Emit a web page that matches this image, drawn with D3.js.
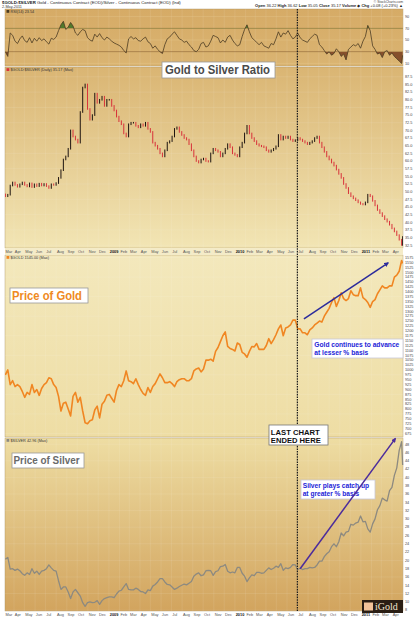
<!DOCTYPE html>
<html>
<head>
<meta charset="utf-8">
<script src="https://cdn.jsdelivr.net/npm/d3@7"></script>
<style>
body { margin: 0; background: #fff; }
svg { display: block; font-family: "Liberation Sans", Arial, sans-serif; }
</style>
</head>
<body>
<div id="chart"></div>
<script>
// weekly closes (fridays), plus the last session
var dates = d3.timeFriday.range(new Date(2008, 2, 7), new Date(2011, 3, 30));
dates.push(new Date(2011, 4, 2));

var ratio = [
  48.5, 49.0, 52.0, 53.0, 52.2, 51.6, 52.4, 53.0, 52.2, 51.7, 52.7, 51.5, 52.4, 51.8, 52.6, 52.0, 52.5, 51.8, 51.2, 52.4,
  52.2, 52.8, 54.5, 57.0, 60.5, 61.5, 64.0, 70.0, 68.0, 67.0, 66.0, 76.0, 84.0, 85.0, 77.0, 73.5, 75.0, 82.0, 79.0, 80.0,
  81.0, 78.0, 80.0, 80.0, 78.0, 76.5, 74.5, 73.0, 72.0, 69.0, 68.0, 72.0, 72.5, 72.5, 71.5, 71.0, 72.0, 71.5, 72.5, 70.5,
  69.5, 66.0, 65.0, 64.0, 62.5, 61.5, 63.5, 66.0, 66.5, 68.0, 70.5, 71.0, 69.5, 68.5, 67.5, 67.0, 65.5, 63.5, 61.5, 60.0,
  59.5, 60.5, 60.8, 60.0, 59.8, 62.5, 64.0, 63.5, 63.0, 61.5, 62.5, 64.0, 65.5, 64.5, 62.5, 62.0, 61.5, 64.5, 66.0, 69.0,
  71.5, 69.0, 67.5, 66.5, 65.5, 65.0, 64.8, 64.5, 63.5, 63.0, 63.5, 64.0, 64.8, 68.5, 67.0, 68.0, 67.5, 68.0, 67.0, 66.5,
  66.8, 67.5, 67.0, 66.5, 66.0, 65.5, 66.0, 66.5, 67.5, 68.0, 66.0, 64.5, 63.0, 61.5, 60.5, 59.5, 58.5, 57.2, 55.8, 54.5,
  52.5, 51.2, 49.5, 48.5, 47.8, 47.2, 46.5, 46.0, 45.8, 46.5, 49.0, 48.5, 47.0, 45.5, 44.0, 43.0, 42.0, 41.0, 40.2, 39.2,
  38.0, 37.0, 35.8, 34.3, 32.6, 35.2
];

var gold = [
  975, 1000, 925, 945, 915, 925, 915, 890, 860, 885, 875, 925, 885, 900, 870, 905, 925, 935, 960, 955,
  925, 910, 865, 790, 830, 835, 800, 765, 865, 885, 835, 860, 790, 730, 725, 740, 745, 795, 815, 755,
  825, 840, 870, 875, 855, 835, 895, 925, 915, 945, 995, 945, 940, 930, 955, 925, 900, 880, 870, 910,
  885, 915, 930, 955, 980, 960, 935, 935, 940, 930, 915, 940, 950, 955, 955, 945, 945, 955, 995, 1005,
  1010, 990, 1005, 1050, 1050, 1055, 1045, 1095, 1115, 1145, 1175, 1195, 1120, 1110, 1105, 1097, 1138, 1130, 1090, 1082,
  1065, 1095, 1120, 1118, 1135, 1105, 1105, 1105, 1125, 1160, 1135, 1155, 1180, 1210, 1230, 1175, 1215, 1220, 1230, 1255,
  1255, 1210, 1210, 1190, 1190, 1180, 1205, 1215, 1230, 1240, 1250, 1245, 1275, 1295, 1315, 1345, 1370, 1325, 1355, 1395,
  1365, 1355, 1365, 1405, 1385, 1380, 1380, 1420, 1370, 1360, 1345, 1320, 1350, 1360, 1390, 1410, 1430, 1420, 1420, 1430,
  1430, 1475, 1485, 1505, 1560, 1545
];

var silver = [
  20.3, 20.7, 17.9, 18.0, 17.6, 17.9, 17.5, 16.8, 16.4, 17.0, 16.6, 18.0, 16.9, 17.4, 16.6, 17.4, 17.6, 18.0, 18.9, 18.2,
  17.6, 17.4, 15.1, 13.0, 13.6, 13.6, 12.4, 10.8, 12.4, 13.0, 12.2, 11.4, 9.8, 8.9, 9.8, 10.0, 9.8, 9.9, 10.3, 9.4,
  10.3, 10.8, 11.0, 11.2, 11.2, 11.0, 11.9, 12.6, 12.8, 13.6, 14.4, 13.0, 12.9, 12.9, 13.3, 13.0, 12.5, 12.4, 12.0, 12.9,
  12.7, 13.8, 14.2, 14.8, 15.6, 15.6, 14.8, 14.2, 14.1, 13.6, 13.0, 13.3, 13.7, 14.0, 14.3, 14.1, 14.5, 14.9, 16.2, 16.7,
  17.0, 16.3, 16.5, 17.5, 17.6, 17.5, 16.4, 17.3, 17.5, 18.5, 18.6, 19.0, 17.4, 17.0, 17.2, 17.0, 18.3, 18.3, 16.9, 16.2,
  14.9, 15.8, 16.5, 16.3, 17.1, 17.1, 16.9, 17.0, 17.6, 18.2, 17.8, 18.1, 18.6, 18.3, 19.2, 17.6, 18.2, 18.0, 18.3, 19.0,
  18.9, 17.8, 18.1, 17.8, 18.0, 18.0, 18.3, 18.2, 18.3, 18.9, 19.8, 19.8, 20.9, 21.6, 22.1, 23.3, 24.0, 23.3, 24.5, 26.6,
  25.9, 26.8, 27.0, 28.7, 28.5, 29.0, 29.2, 30.7, 29.3, 29.4, 27.6, 26.8, 28.8, 30.0, 32.2, 33.2, 35.0, 34.6, 34.3, 36.8,
  37.6, 40.5, 42.3, 46.5, 48.6, 43.0
];

var rsi = [
  30, 22, 62, 58, 48, 44, 52, 57, 49, 46, 54, 45, 53, 48, 54, 49, 52, 47, 43, 53,
  51, 55, 66, 76, 82, 68, 72, 80, 74, 62, 58, 64, 68, 66, 54, 50, 48, 60, 55, 61,
  54, 50, 55, 52, 48, 45, 43, 41, 38, 32, 28, 52, 56, 52, 54, 49, 48, 52, 55, 47,
  44, 36, 40, 34, 30, 27, 42, 52, 55, 60, 64, 58, 52, 50, 46, 48, 42, 38, 32, 30,
  34, 44, 46, 38, 40, 48, 58, 56, 54, 45, 50, 46, 55, 58, 50, 44, 40, 42, 56, 68,
  76, 64, 54, 50, 46, 42, 46, 40, 38, 36, 44, 42, 52, 64, 55, 62, 60, 66, 58, 52,
  55, 62, 54, 50, 48, 46, 52, 56, 60, 58, 42, 38, 32, 26, 30, 24, 27, 35, 30, 22,
  26, 16, 34, 38, 42, 40, 44, 36, 48, 56, 75, 66, 40, 34, 26, 28, 20, 30, 32, 24,
  28, 22, 18, 14, 10, 24
];

// right axis labels
var rsiTicks = [90, 70, 50, 30, 10];
var ratioTicks = d3.range(32.5, 87.6, 2.5);
var goldTicks = d3.range(675, 1576, 25);
var silverTicks = d3.range(8, 49, 2);

var W = 419, H = 618;
var left = 5, right = 403;

var panels = {
  rsi:    {top: 9,   bottom: 66},
  ratio:  {top: 67,  bottom: 248},
  gold:   {top: 255, bottom: 437},
  silver: {top: 438, bottom: 611}
};

var x = d3.scaleTime()
    .domain([new Date(2008, 2, 3), new Date(2011, 4, 3)])
    .range([4, 403]);

var yRsi = d3.scaleLinear().domain([5.6, 103]).range([panels.rsi.bottom, panels.rsi.top]);
var yRatio = d3.scaleLinear().domain([31.6, 90.7]).range([panels.ratio.bottom, panels.ratio.top]);
var yGold = d3.scaleLinear().domain([657, 1588]).range([panels.gold.bottom, panels.gold.top]);
var ySilver = d3.scaleLinear().domain([7.8, 49.5]).range([panels.silver.bottom, panels.silver.top]);

var svg = d3.select("#chart").append("svg")
    .attr("width", W)
    .attr("height", H);

var defs = svg.append("defs");

function gradient(id, c1, c2) {
  var g = defs.append("linearGradient").attr("id", id)
      .attr("x1", 0).attr("y1", 0).attr("x2", 0).attr("y2", 1);
  g.append("stop").attr("offset", "0%").attr("stop-color", c1);
  g.append("stop").attr("offset", "100%").attr("stop-color", c2);
}
gradient("bgRsi", "#d6ab66", "#dab472");
gradient("bgRatio", "#dab573", "#f2e5b4");
gradient("bgGold", "#f3e8bc", "#eedda4");
gradient("bgSilver", "#eedda3", "#d2a45e");

// panel backgrounds
var bgIds = {rsi: "bgRsi", ratio: "bgRatio", gold: "bgGold", silver: "bgSilver"};
Object.keys(panels).forEach(function(k) {
  var p = panels[k];
  svg.append("rect")
      .attr("x", left).attr("y", p.top)
      .attr("width", right - left).attr("height", p.bottom - p.top)
      .attr("fill", "url(#" + bgIds[k] + ")")
      .attr("stroke", "#a89060")
      .attr("stroke-width", 0.4);
  defs.append("clipPath").attr("id", "clip-" + k)
    .append("rect")
      .attr("x", left).attr("y", p.top)
      .attr("width", right - left).attr("height", p.bottom - p.top);
});

// month strip between ratio and gold panels
svg.append("rect")
    .attr("x", left).attr("y", 248)
    .attr("width", right - left).attr("height", 7)
    .attr("fill", "#f4ebc8");

var months = d3.timeMonth.range(new Date(2008, 2, 1), new Date(2011, 4, 2));

// faint grid
Object.keys(panels).forEach(function(k) {
  var p = panels[k];
  svg.append("g").selectAll("line")
      .data(months)
    .enter().append("line")
      .attr("x1", function(d) { return x(d); })
      .attr("x2", function(d) { return x(d); })
      .attr("y1", p.top).attr("y2", p.bottom)
      .attr("stroke", "#fff")
      .attr("stroke-opacity", 0.18)
      .attr("stroke-width", 0.5);
});

function hgrid(ticks, y, op) {
  svg.append("g").selectAll("line")
      .data(ticks)
    .enter().append("line")
      .attr("x1", left).attr("x2", right)
      .attr("y1", function(d) { return y(d); })
      .attr("y2", function(d) { return y(d); })
      .attr("stroke", "#fff")
      .attr("stroke-opacity", op)
      .attr("stroke-width", 0.5);
}
hgrid(ratioTicks.filter(function(d, i) { return i % 2 == 0; }), yRatio, 0.18);
hgrid(goldTicks.filter(function(d, i) { return i % 4 == 0; }), yGold, 0.2);
hgrid(silverTicks.filter(function(d, i) { return i % 2 == 0; }), ySilver, 0.18);

// rsi reference lines
svg.append("g").selectAll("line")
    .data(rsiTicks)
  .enter().append("line")
    .attr("x1", left).attr("x2", right)
    .attr("y1", function(d) { return yRsi(d); })
    .attr("y2", function(d) { return yRsi(d); })
    .attr("stroke", function(d) { return (d == 70 || d == 30) ? "#9e7a44" : "#e6c88e"; })
    .attr("stroke-width", function(d) { return (d == 70 || d == 30) ? 0.6 : 0.4; });

var rsiData = dates.map(function(d, i) { return {date: d, v: rsi[i]}; });

defs.append("clipPath").attr("id", "clip-over")
  .append("rect").attr("x", left).attr("y", panels.rsi.top)
    .attr("width", right - left).attr("height", yRsi(70) - panels.rsi.top);
defs.append("clipPath").attr("id", "clip-under")
  .append("rect").attr("x", left).attr("y", yRsi(30))
    .attr("width", right - left).attr("height", panels.rsi.bottom - yRsi(30));

svg.append("path")
    .datum(rsiData)
    .attr("clip-path", "url(#clip-over)")
    .attr("fill", "#52792c")
    .attr("d", d3.area()
      .x(function(d) { return x(d.date); })
      .y0(yRsi(70))
      .y1(function(d) { return yRsi(d.v); }));

svg.append("path")
    .datum(rsiData)
    .attr("clip-path", "url(#clip-under)")
    .attr("fill", "#86502c")
    .attr("d", d3.area()
      .x(function(d) { return x(d.date); })
      .y0(yRsi(30))
      .y1(function(d) { return yRsi(d.v); }));

svg.append("path")
    .datum(rsiData)
    .attr("clip-path", "url(#clip-rsi)")
    .attr("fill", "none")
    .attr("stroke", "#4b3b22")
    .attr("stroke-width", 0.8)
    .attr("d", d3.line()
      .x(function(d) { return x(d.date); })
      .y(function(d) { return yRsi(d.v); }));

// ratio bars, previous close to close
var bars = dates.map(function(d, i) {
  return {date: d, open: i == 0 ? ratio[0] + 0.6 : ratio[i - 1], close: ratio[i]};
});

svg.append("g")
    .attr("clip-path", "url(#clip-ratio)")
  .selectAll("line")
    .data(bars)
  .enter().append("line")
    .attr("x1", function(d) { return x(d.date); })
    .attr("x2", function(d) { return x(d.date); })
    .attr("y1", function(d) { return yRatio(Math.max(d.open, d.close)) - 0.8; })
    .attr("y2", function(d) { return yRatio(Math.min(d.open, d.close)) + 0.8; })
    .attr("stroke", function(d) { return d.close >= d.open ? "#1e1410" : "#d8323a"; })
    .attr("stroke-width", 1);

// gold line
svg.append("path")
    .datum(gold)
    .attr("clip-path", "url(#clip-gold)")
    .attr("fill", "none")
    .attr("stroke", "#f08622")
    .attr("stroke-width", 1.6)
    .attr("stroke-linejoin", "round")
    .attr("d", d3.line()
      .x(function(d, i) { return x(dates[i]); })
      .y(function(d) { return yGold(d); }));

// silver line
svg.append("path")
    .datum(silver)
    .attr("fill", "none")
    .attr("stroke", "#8d8a80")
    .attr("stroke-width", 1.3)
    .attr("stroke-linejoin", "round")
    .attr("d", d3.line()
      .x(function(d, i) { return x(dates[i]); })
      .y(function(d) { return ySilver(d); }));

// right axis labels
function rightLabels(ticks, y, fmt) {
  svg.append("g").selectAll("text")
      .data(ticks)
    .enter().append("text")
      .attr("x", 405)
      .attr("y", function(d) { return y(d) + 1.3; })
      .style("font-size", "3.8px")
      .style("fill", "#444")
      .text(fmt);
}
rightLabels(rsiTicks, yRsi, function(d) { return d; });
rightLabels(ratioTicks, yRatio, d3.format(".1f"));
rightLabels(goldTicks, yGold, function(d) { return d; });
rightLabels(silverTicks, ySilver, function(d) { return d; });

// month labels
function monthLabels(yPos) {
  svg.append("g").selectAll("text")
      .data(months.filter(function(d) { return x(d) < 398; }))
    .enter().append("text")
      .attr("x", function(d) { return Math.max(x(d) + 0.8, left + 0.5); })
      .attr("y", yPos)
      .style("font-size", "3.9px")
      .style("font-weight", function(d) { return d.getMonth() == 0 ? "bold" : "normal"; })
      .style("fill", function(d) { return d.getMonth() == 0 ? "#111" : "#555"; })
      .text(function(d) { return d.getMonth() == 0 ? d3.timeFormat("%Y")(d) : d3.timeFormat("%b")(d); });
}
monthLabels(253.3);
monthLabels(616.3);

// header
var head = svg.append("text").attr("x", 2).attr("y", 4.4).style("font-size", "4.3px").style("fill", "#222");
head.append("tspan").style("font-weight", "bold").text("$GOLD:$SILVER");
head.append("tspan").text(" Gold - Continuous Contract (EOD)/Silver - Continuous Contract (EOD)  (Ind)");
svg.append("text").attr("x", 2).attr("y", 8.2).style("font-size", "3.8px").style("fill", "#333").text("2-May-2011");

svg.append("text").attr("x", 403).attr("y", 3.2).attr("text-anchor", "end")
    .style("font-size", "3.4px").style("fill", "#444").text("© StockCharts.com");
var quote = svg.append("text").attr("x", 403).attr("y", 7.4).attr("text-anchor", "end")
    .style("font-size", "4px").style("fill", "#222");
[["Open", " 36.22 "], ["High", " 36.62 "], ["Low", " 35.05 "], ["Close", " 35.17 "], ["Volume", " ◆ "], ["Chg", " +0.08 (+0.23%) ▲"]]
  .forEach(function(p) {
    quote.append("tspan").style("font-weight", "bold").text(p[0]);
    quote.append("tspan").text(p[1]);
  });

// legends
function legend(yPos, color, label) {
  svg.append("rect").attr("x", 6.5).attr("y", yPos - 2.6).attr("width", 2.8).attr("height", 2.8).attr("fill", color);
  svg.append("text").attr("x", 10.5).attr("y", yPos)
      .style("font-size", "3.8px").style("fill", "#333").text(label);
}
legend(12.6, "#4b3b22", "RSI(14) 23.54");
legend(70.8, "#d8323a", "$GOLD:$SILVER (Daily) 35.17 (Max)");
legend(258.6, "#f08622", "$GOLD 1545.00 (Max)");
legend(441.6, "#8d8a80", "$SILVER 42.96 (Max)");

// divider: where the last chart ended
var lastChart = new Date(2010, 6, 1);
svg.append("line")
    .attr("x1", x(lastChart)).attr("x2", x(lastChart))
    .attr("y1", panels.rsi.top).attr("y2", panels.silver.bottom)
    .attr("stroke", "#1a1a1a")
    .attr("stroke-width", 1.2)
    .attr("stroke-dasharray", "1.6,1");

// title boxes
function titleBox(bx, by, bw, bh, lines, color, size, border) {
  svg.append("rect")
      .attr("x", bx).attr("y", by).attr("width", bw).attr("height", bh)
      .attr("fill", "#fff")
      .attr("stroke", border)
      .attr("stroke-width", 0.8);
  lines.forEach(function(l) {
    svg.append("text")
        .attr("x", l.x).attr("y", l.y)
        .attr("textLength", l.w)
        .attr("lengthAdjust", "spacingAndGlyphs")
        .style("font-size", size + "px")
        .style("font-weight", "bold")
        .style("fill", color)
        .text(l.t);
  });
}
titleBox(162, 62, 113, 16, [{t: "Gold to Silver Ratio", x: 165, y: 73.6, w: 105}], "#4a4a4a", 12, "#9a9a9a");
titleBox(10, 288, 78, 15, [{t: "Price of Gold", x: 12, y: 299.6, w: 70}], "#ef8a22", 13, "#9a9a9a");
titleBox(12, 453, 72, 15, [{t: "Price of Silver", x: 13.5, y: 464.2, w: 66}], "#6a6a6a", 11.5, "#9a9a9a");
titleBox(312, 339, 91, 19, [
  {t: "Gold continues to advance", x: 314.3, y: 347.3, w: 85},
  {t: "at lesser % basis", x: 314.3, y: 355.3, w: 54}
], "#2424d8", 7.2, "#c8c8d8");
titleBox(301, 480, 74, 19, [
  {t: "Silver plays catch up", x: 302.7, y: 488.3, w: 66.5},
  {t: "at greater % basis", x: 302.7, y: 496.2, w: 56.5}
], "#2424d8", 7.2, "#c8c8d8");
titleBox(269, 425, 59, 20, [
  {t: "LAST CHART", x: 270.8, y: 434.8, w: 49},
  {t: "ENDED HERE", x: 270.8, y: 443.2, w: 50}
], "#111", 7.8, "#777");

// arrows, anchored in data space
function arrow(id, color, from, to, y) {
  var m = defs.append("marker").attr("id", id)
      .attr("viewBox", "0 0 10 10").attr("refX", 8).attr("refY", 5)
      .attr("markerWidth", 3.2).attr("markerHeight", 3.2)
      .attr("orient", "auto");
  m.append("path").attr("d", "M0,0L10,5L0,10z").attr("fill", color);
  svg.append("line")
      .attr("x1", x(from[0])).attr("y1", y(from[1]))
      .attr("x2", x(to[0])).attr("y2", y(to[1]))
      .attr("stroke", color)
      .attr("stroke-width", 1.5)
      .attr("marker-end", "url(#" + id + ")");
}
arrow("headGold", "#2b2b9c", [new Date(2010, 6, 20), 1261], [new Date(2011, 2, 21), 1548], yGold);
arrow("headSilver", "#4c2c9c", [new Date(2010, 6, 9), 18], [new Date(2011, 3, 11), 49.4], ySilver);

// iGold badge
svg.append("rect").attr("x", 362).attr("y", 600).attr("width", 41).attr("height", 13).attr("fill", "#2a1e14");
svg.append("rect").attr("x", 364).attr("y", 602.5).attr("width", 9).attr("height", 8).attr("fill", "#f2c39a");
svg.append("text").attr("x", 375).attr("y", 610.4)
    .style("font-family", "'Liberation Serif', 'DejaVu Serif', serif")
    .style("font-size", "10px")
    .style("fill", "#f4e6d0")
    .text("iGold");
</script>
</body>
</html>
